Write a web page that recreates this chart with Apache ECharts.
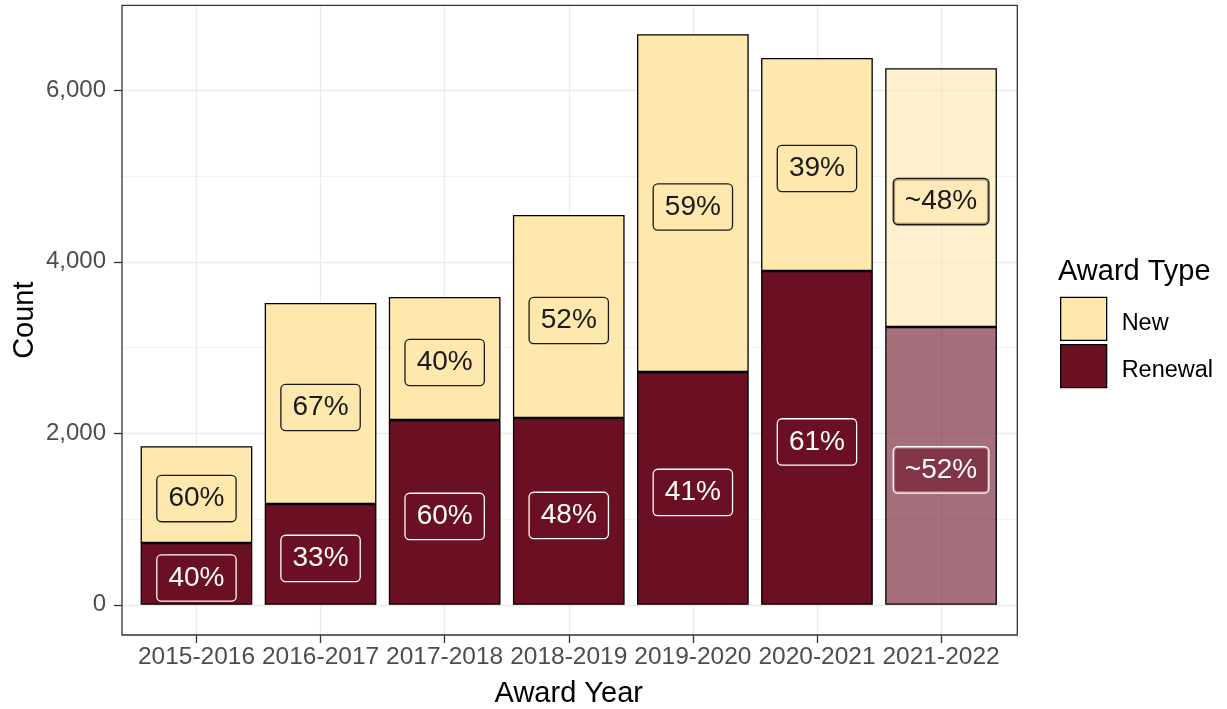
<!DOCTYPE html>
<html>
<head>
<meta charset="utf-8">
<script src="https://cdn.jsdelivr.net/npm/echarts@6/dist/echarts.min.js"></script>
<style>
html,body{margin:0;padding:0;background:#fff;}
#chart{width:1227px;height:709px;}
</style>
</head>
<body>
<div id="chart"></div>
<script>
const categories = ['2015-2016','2016-2017','2017-2018','2018-2019','2019-2020','2020-2021','2021-2022'];
const renewalCounts = [720, 1175, 2155, 2178, 2715, 3893, 3240];
const newCounts = [1130, 2345, 1435, 2368, 3940, 2485, 3017];
const newLabels = ['60%','67%','40%','52%','59%','39%','~48%'];
const renewalLabels = ['40%','33%','60%','48%','41%','61%','~52%'];
const projected = [false,false,false,false,false,false,true];
const yTicksMajor = [0, 6000, 2000];
const yTicksMinor = [1000, 5000, 2000];

const FONT = "'Liberation Sans', Arial, sans-serif";
const NEW_RGB = [255, 232, 173];
const REN_RGB = [107, 15, 35];
const FADE = 0.6;
function col(rgb, a){ return 'rgba(' + rgb.join(',') + ',' + a + ')'; }

// Panel geometry (pixels)
const P = {left:122, right:1017.3, top:5.3, bottom:635};
const y0px = 604.8, pxPerUnit = 0.08575;
const yMinPanel = -(P.bottom - y0px)/pxPerUnit;
const yMaxPanel = (y0px - P.top)/pxPerUnit;
const band = 124.1;
const firstCenter = P.left + 0.6*band;
const lastCenter = firstCenter + 6*band;
const H = 709, W = 1227;

function makeItems(vals, rgb){
  return vals.map((v,i)=>{
    const a = projected[i] ? FADE : 1;
    return {
      value: v,
      itemStyle: {color: col(rgb, a)},
      label: {backgroundColor: col(rgb, a)}
    };
  });
}

const labelBase = {
  show: true,
  position: 'inside',
  offset: [0, 4],
  fontSize: 28,
  fontFamily: FONT,
  lineHeight: 28,
  padding: [9, 11, 8, 11],
  borderWidth: 1.3,
  borderRadius: 4
};

const G = {outerBoundsMode: 'none', containLabel: false};

const option = {
  animation: false,
  backgroundColor: '#ffffff',
  textStyle: {fontFamily: FONT},
  title: {
    text: 'Award Type',
    left: 1053, top: 252,
    textStyle: {fontSize: 29, fontWeight: 'normal', color: '#000', fontFamily: FONT}
  },
  legend: {
    orient: 'vertical',
    left: 1060, top: 296.7,
    padding: 0,
    itemWidth: 46, itemHeight: 43, itemGap: 3,
    icon: 'rect',
    data: ['New','Renewal'],
    itemStyle: {borderColor: '#000', borderWidth: 1.3},
    formatter: name => '{t|' + name + '}',
    textStyle: {
      fontSize: 23.5, color: '#000', fontFamily: FONT,
      rich: {t: {fontSize: 23.5, color: '#000', fontFamily: FONT, padding: [9, 0, 0, 10]}}
    }
  },
  grid: [
    Object.assign({left: P.left, right: W - P.right, top: y0px - 6000*pxPerUnit, bottom: H - y0px}, G),
    Object.assign({left: P.left, right: W - P.right, top: y0px - 5000*pxPerUnit, bottom: H - (y0px - 1000*pxPerUnit)}, G),
    Object.assign({left: firstCenter, right: W - lastCenter, top: P.top, bottom: H - P.bottom}, G),
    Object.assign({left: firstCenter - band/2, right: W - (lastCenter + band/2), top: P.top, bottom: H - P.bottom}, G),
    Object.assign({left: P.left, right: W - P.right, top: P.top, bottom: H - P.bottom, show: true,
     borderColor: '#333333', borderWidth: 1.3, backgroundColor: 'transparent', z: 10}, G)
  ],
  xAxis: [
    {gridIndex: 0, type: 'value', show: false, min: 0, max: 1},
    {gridIndex: 1, type: 'value', show: false, min: 0, max: 1},
    {gridIndex: 2, type: 'category', data: categories, boundaryGap: false,
     axisLine: {show: false},
     axisTick: {show: true, length: 8, lineStyle: {color: '#333333', width: 1.3}},
     axisLabel: {interval: 0, fontSize: 24.5, color: '#4D4D4D', margin: 10, fontFamily: FONT},
     splitLine: {show: true, lineStyle: {color: '#EBEBEB', width: 1.3}},
     name: 'Award Year', nameLocation: 'middle', nameGap: 44,
     nameTextStyle: {fontSize: 29, color: '#000', fontFamily: FONT}},
    {gridIndex: 3, type: 'category', data: categories, show: false},
    {gridIndex: 4, type: 'value', show: false, min: 0, max: 1}
  ],
  yAxis: [
    {gridIndex: 0, type: 'value', min: yTicksMajor[0], max: yTicksMajor[1], interval: yTicksMajor[2],
     axisLine: {show: false},
     axisTick: {show: true, length: 8, lineStyle: {color: '#333333', width: 1.3}},
     axisLabel: {fontSize: 24, color: '#4D4D4D', margin: 16, fontFamily: FONT},
     splitLine: {show: true, lineStyle: {color: '#EBEBEB', width: 1.3}}},
    {gridIndex: 1, type: 'value', min: yTicksMinor[0], max: yTicksMinor[1], interval: yTicksMinor[2],
     axisLine: {show: false}, axisTick: {show: false}, axisLabel: {show: false},
     splitLine: {show: true, lineStyle: {color: '#F0F0F0', width: 0.8}}},
    {gridIndex: 2, type: 'value', show: false, min: 0, max: 1},
    {gridIndex: 3, type: 'value', show: false, min: yMinPanel, max: yMaxPanel},
    {gridIndex: 4, type: 'value', min: 0, max: 1,
     axisLine: {show: false}, axisTick: {show: false}, axisLabel: {show: false}, splitLine: {show: false},
     name: 'Count', nameLocation: 'middle', nameGap: 83,
     nameTextStyle: {fontSize: 29, color: '#000', fontFamily: FONT}}
  ],
  series: [
    {
      name: 'Renewal', type: 'bar', stack: 'total', xAxisIndex: 3, yAxisIndex: 3,
      barWidth: '90%',
      itemStyle: {color: col(REN_RGB,1), borderColor: '#000', borderWidth: 1.3},
      label: Object.assign({}, labelBase, {
        color: '#ffffff', borderColor: '#ffffff',
        formatter: p => renewalLabels[p.dataIndex]
      }),
      data: makeItems(renewalCounts, REN_RGB),
      z: 3
    },
    {
      name: 'New', type: 'bar', stack: 'total', xAxisIndex: 3, yAxisIndex: 3,
      barWidth: '90%',
      itemStyle: {color: col(NEW_RGB,1), borderColor: '#000', borderWidth: 1.3},
      label: Object.assign({}, labelBase, {
        color: '#1a1a1a', borderColor: '#1a1a1a',
        formatter: p => newLabels[p.dataIndex]
      }),
      data: makeItems(newCounts, NEW_RGB),
      z: 3
    }
  ]
};

const chart = echarts.init(document.getElementById('chart'), null, {renderer: 'canvas'});
chart.setOption(option);
</script>
</body>
</html>
